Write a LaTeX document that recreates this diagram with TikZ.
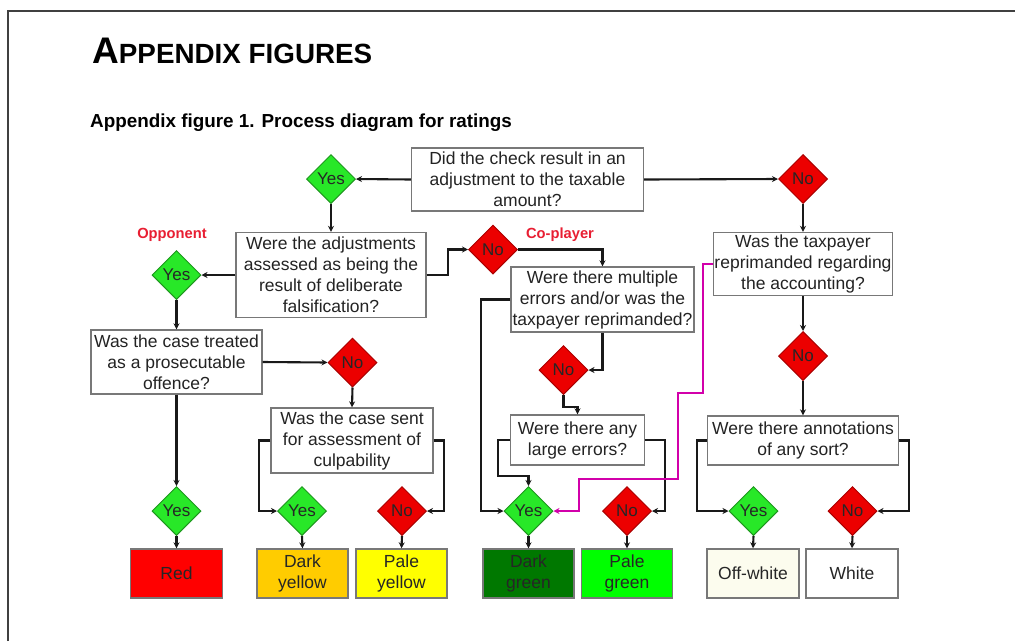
\documentclass[tikz,border=0pt]{standalone}
\usepackage{fontspec}
\setmainfont{Liberation Sans}
\usetikzlibrary{shapes.geometric,arrows.meta}
\definecolor{dgreen}{RGB}{40,232,40}
\definecolor{dgreenB}{RGB}{30,150,30}
\definecolor{dred}{RGB}{236,0,0}
\definecolor{dredB}{RGB}{170,0,0}
\definecolor{boxgray}{RGB}{120,120,120}
\definecolor{txt}{RGB}{35,35,35}
\definecolor{lblred}{RGB}{232,30,50}
\definecolor{magline}{RGB}{210,0,170}
\definecolor{resRed}{RGB}{255,0,0}
\definecolor{resDY}{RGB}{255,204,0}
\definecolor{resPY}{RGB}{255,255,0}
\definecolor{resDG}{RGB}{0,120,0}
\definecolor{resPG}{RGB}{0,255,0}
\definecolor{resOW}{RGB}{252,252,238}
\tikzset{
  qbox/.style={draw=boxgray, line width=1.4pt, fill=white, inner sep=0pt, align=center,
    text=txt, font=\fontsize{17.5}{21}\selectfont},
  yesd/.style={diamond, aspect=1, draw=dgreenB, line width=1pt, fill=dgreen, inner sep=0pt,
    minimum size=49pt, text=black!85, font=\fontsize{17}{20}\selectfont},
  nod/.style={diamond, aspect=1, draw=dredB, line width=1pt, fill=dred, inner sep=0pt,
    minimum size=49pt, text=black!85, font=\fontsize{17}{20}\selectfont},
  res/.style={draw=boxgray, line width=1.4pt, inner sep=0pt, align=center,
    minimum height=49pt, text=black!85, font=\fontsize{17.5}{21}\selectfont},
  arr/.style={draw=black!90, line width=2.1pt, -{Stealth[length=6pt,width=6pt]}},
  marr/.style={draw=magline, line width=2.1pt, -{Stealth[length=6pt,width=6pt]}},
  lbl/.style={text=lblred, font=\fontsize{14.7}{17}\selectfont\bfseries},
}
\begin{document}
\begin{tikzpicture}[x=1pt,y=-1pt]
\useasboundingbox (0,0) rectangle (1015,641);
% page frame
\draw[line width=2pt, black!75] (8,641) -- (8,11) -- (1015,11);
% titles
\node[anchor=base west, inner sep=0pt] (title) at (92,63)
  {\bfseries\fontsize{37}{40}\selectfont A\fontsize{27.8}{30}\selectfont PPENDIX FIGURES};
\node[anchor=base west, inner sep=0pt] (subtitle) at (90,127)
  {\bfseries\fontsize{18.85}{22}\selectfont Appendix figure 1. Process diagram for ratings};
% questions
\node[qbox, minimum width=232pt, minimum height=63pt] (q1) at (527.5,179.5)
  {Did the check result in an\\adjustment to the taxable\\amount?};
\node[qbox, minimum width=190pt, minimum height=85pt] (q2) at (331,275)
  {Were the adjustments\\assessed as being the\\result of deliberate\\falsification?};
\node[qbox, minimum width=171pt, minimum height=64pt] (q3) at (176.5,362)
  {Was the case treated\\as a prosecutable\\offence?};
\node[qbox, minimum width=162pt, minimum height=65pt] (q4) at (352,440.5)
  {Was the case sent\\for assessment of\\culpability};
\node[qbox, minimum width=183pt, minimum height=65pt] (q5) at (602.5,299.5)
  {Were there multiple\\errors and/or was the\\taxpayer reprimanded?};
\node[qbox, minimum width=134pt, minimum height=50pt] (q6) at (577.5,440)
  {Were there any\\large errors?};
\node[qbox, minimum width=179pt, minimum height=63pt] (q7) at (803,264)
  {Was the taxpayer\\reprimanded regarding\\the accounting?};
\node[qbox, minimum width=191pt, minimum height=49pt] (q8) at (803,440.5)
  {Were there annotations\\of any sort?};
% labels
\node[lbl] (opp) at (172,235) {Opponent};
\node[lbl] (cop) at (560,235) {Co-player};
% decision diamonds
\node[yesd] (d1) at (331,179) {Yes};
\node[nod]  (d2) at (803,179) {No};
\node[yesd] (d3) at (176.5,275) {Yes};
\node[nod]  (d4) at (352.5,362.5) {No};
\node[yesd] (d7) at (176.5,511) {Yes};
\node[yesd] (d5) at (302,511) {Yes};
\node[nod]  (d6) at (402,511) {No};
\node[nod]  (d8) at (493,249.5) {No};
\node[nod]  (d10) at (563.5,370) {No};
\node[yesd] (d9) at (528.5,511) {Yes};
\node[nod]  (d11) at (627,511) {No};
\node[nod]  (d12) at (803,356) {No};
\node[yesd] (d13) at (753.5,511) {Yes};
\node[nod]  (d14) at (852.5,511) {No};
% results
\node[res, fill=resRed, minimum width=92pt] (rRed) at (176.5,573.5) {Red};
\node[res, fill=resDY, minimum width=91pt] (rDY) at (302.5,573.5) {Dark\\yellow};
\node[res, fill=resPY, minimum width=91pt] (rPY) at (401.5,573.5) {Pale\\yellow};
\node[res, fill=resDG, minimum width=91pt] (rDG) at (528.5,573.5) {Dark\\green};
\node[res, fill=resPG, minimum width=91pt] (rPG) at (627,573.5) {Pale\\green};
\node[res, fill=resOW, minimum width=92pt] (rOW) at (753,573.5) {Off-white};
\node[res, fill=white, minimum width=92pt] (rW) at (852,573.5) {White};
% connectors
\draw[arr] (q1.west) -- (d1.east);
\draw[arr] (q1.east) -- (d2.west);
\draw[arr] (d1.south) -- (q2.north);
\draw[arr] (q2.west) -- (d3.east);
\draw[arr] (d3.south) -- (q3.north);
\draw[arr] (q3.east) -- (d4.west);
\draw[arr] (q3.south) -- (d7.north);
\draw[arr] (d4.south) -- (q4.north);
\draw[arr] (q4.west) -- ++(-11,0) |- (d5.west);
\draw[arr] (q4.east) -- ++(10,0) |- (d6.east);
\draw[arr] (d7.south) -- (rRed.north);
\draw[arr] (d5.south) -- (rDY.north);
\draw[arr] (d6.south) -- (rPY.north);
\draw[arr] (q2.east) -- ++(21,0) |- (d8.west);
\draw[arr] (d8.east) -| (q5.north);
\draw[arr] (q5.west) -- ++(-29,0) |- (d9.west);
\draw[arr] (q5.south) |- (d10.east);
\draw[arr] (d10.south) -- ++(0,12) -| (q6.north);
\draw[arr] (q6.west) -- ++(-12,0) -- ++(0,36) -| (d9.north);
\draw[arr] (q6.east) -- ++(20,0) |- (d11.east);
\draw[arr] (d9.south) -- (rDG.north);
\draw[arr] (d11.south) -- (rPG.north);
\draw[marr] (q7.west) -- ++(-10,0) -- ++(0,129) -- ++(-25,0) -- ++(0,86) -- ++(-99,0) |- (d9.east);
\draw[arr] (d2.south) -- (q7.north);
\draw[arr] (q7.south) -- (d12.north);
\draw[arr] (d12.south) -- (q8.north);
\draw[arr] (q8.west) -- ++(-10,0) |- (d13.west);
\draw[arr] (q8.east) -- ++(10,0) |- (d14.east);
\draw[arr] (d13.south) -- (rOW.north);
\draw[arr] (d14.south) -- (rW.north);
\end{tikzpicture}
\end{document}
